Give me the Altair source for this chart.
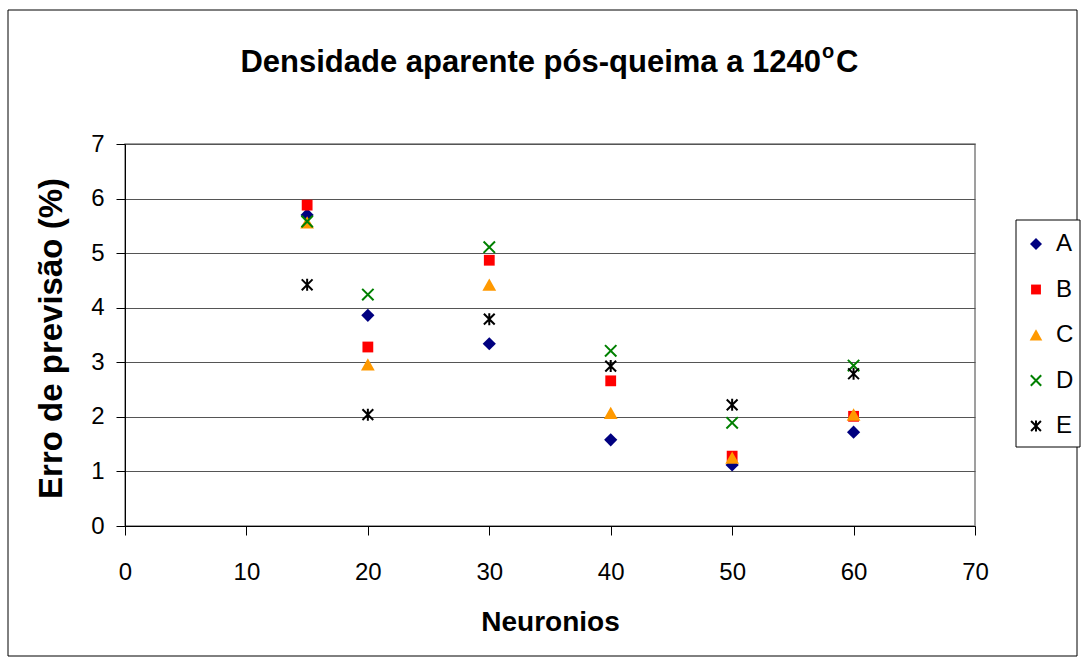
import altair as alt
import pandas as pd

# Forecast error (%) per number of neurons, one list per series
neurons = [15, 20, 30, 40, 50, 60]
series_names = ["A", "B", "C", "D", "E"]
serie_a = [5.70, 3.86, 3.34, 1.58, 1.12, 1.72]
serie_b = [5.88, 3.28, 4.87, 2.66, 1.28, 2.01]
serie_c = [5.56, 2.96, 4.42, 2.07, 1.25, 2.04]
serie_d = [5.58, 4.24, 5.11, 3.21, 1.89, 2.94]
serie_e = [4.42, 2.04, 3.79, 2.93, 2.22, 2.79]

x_ticks = [0, 10, 20, 30, 40, 50, 60, 70]
y_ticks = [0, 1, 2, 3, 4, 5, 6, 7]

fill_colors = ["#000080", "#FF0000", "#FF9900", "transparent", "transparent"]
stroke_colors = ["transparent", "transparent", "transparent", "#008000", "#000000"]
# marker outlines in unit coordinates (scaled by the symbol size)
shapes = [
    "M0,-1.1L1.1,0L0,1.1L-1.1,0Z",
    "M-0.9,-0.9L0.9,-0.9L0.9,0.9L-0.9,0.9Z",
    "M0,-1.05L1.15,1L-1.15,1Z",
    "M-0.95,-0.95L0.95,0.95M0.95,-0.95L-0.95,0.95",
    "M-0.9,-0.9L0.9,0.9M0.9,-0.9L-0.9,0.9M0,-1L0,1",
]

rows = []
for name, values in zip(series_names, [serie_a, serie_b, serie_c, serie_d, serie_e]):
    for n, v in zip(neurons, values):
        rows.append({"serie": name, "neuronios": n, "erro": v})
df = pd.DataFrame(rows)

FONT = "Liberation Sans"
W, H = 850, 382
LEFT, TOP = 125, 144

points = alt.Chart(df).mark_point(opacity=1, strokeWidth=2, size=144).encode(
    x=alt.X(
        "neuronios:Q",
        scale=alt.Scale(domain=[0, 70], nice=False),
        axis=alt.Axis(
            values=x_ticks, title="Neuronios", grid=False, labelFlush=False,
            labelPadding=25, titleBaseline="alphabetic", titleY=104,
        ),
    ),
    y=alt.Y(
        "erro:Q",
        scale=alt.Scale(domain=[0, 7], nice=False),
        axis=alt.Axis(
            values=y_ticks, title="Erro de previsão (%)", grid=True, labelFlush=False,
            labelPadding=12, titleBaseline="alphabetic", titleAngle=270,
            titleX=-64, titleY=H / 2 + 3, titleFontSize=33,
        ),
    ),
    shape=alt.Shape("serie:N", scale=alt.Scale(domain=series_names, range=shapes), title=None),
    fill=alt.Fill("serie:N", scale=alt.Scale(domain=series_names, range=fill_colors), title=None),
    stroke=alt.Stroke("serie:N", scale=alt.Scale(domain=series_names, range=stroke_colors), title=None),
    order=alt.Order("serie:N"),
)

box_df = pd.DataFrame({"k": [0]})

# outer frame of the whole chart
frame = alt.Chart(box_df).mark_rect(
    fillOpacity=0, stroke="black", strokeWidth=1
).encode(
    x=alt.value(8 - LEFT), x2=alt.value(1077 - LEFT),
    y=alt.value(10 - TOP), y2=alt.value(656 - TOP),
)

# box behind the legend entries
legend_box = alt.Chart(box_df).mark_rect(
    fill="white", stroke="black", strokeWidth=1
).encode(
    x=alt.value(1016 - LEFT), x2=alt.value(1080 - LEFT),
    y=alt.value(220 - TOP), y2=alt.value(447 - TOP),
)

title_main = "Densidade aparente pós-queima a 1240"
t_main = alt.Chart(pd.DataFrame({"t": [title_main]})).mark_text(
    font=FONT, fontSize=31, fontWeight="bold", align="right", baseline="alphabetic", color="black"
).encode(text="t:N", x=alt.value(821 - LEFT), y=alt.value(72 - TOP))
t_o = alt.Chart(pd.DataFrame({"t": ["o"]})).mark_text(
    font=FONT, fontSize=20, fontWeight="bold", align="left", baseline="alphabetic", color="black"
).encode(text="t:N", x=alt.value(822 - LEFT), y=alt.value(58 - TOP))
t_c = alt.Chart(pd.DataFrame({"t": ["C"]})).mark_text(
    font=FONT, fontSize=31, fontWeight="bold", align="left", baseline="alphabetic", color="black"
).encode(text="t:N", x=alt.value(836 - LEFT), y=alt.value(72 - TOP))

chart = alt.layer(frame, legend_box, points, t_main, t_o, t_c).properties(
    width=W, height=H,
    padding={"left": LEFT, "top": TOP, "right": 1082 - LEFT - W, "bottom": 661 - TOP - H},
    autosize="none",
    background="white",
).configure_view(
    stroke="#808080", strokeWidth=1.5
).configure_axis(
    domainColor="black", domainWidth=1,
    tickColor="black", tickSize=9, tickWidth=1,
    labelFont=FONT, labelFontSize=24, labelColor="black",
    titleFont=FONT, titleFontSize=28, titleFontWeight="bold", titleColor="black",
    gridColor="#555555", gridWidth=1,
).configure_legend(
    orient="none", legendX=1016 - LEFT, legendY=220 - TOP,
    padding=12, rowPadding=21.5, symbolOffset=-4,
    symbolSize=120, symbolStrokeWidth=2, symbolOpacity=1,
    labelFont=FONT, labelFontSize=24, labelColor="black", labelOffset=8,
)

chart.save("out.html", embed_options={"renderer": "svg", "actions": False})
